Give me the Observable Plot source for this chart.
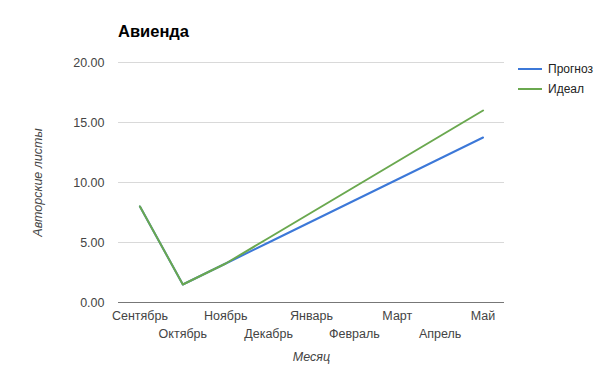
<!DOCTYPE html>
<html><head><meta charset="utf-8">
<script src="https://cdn.jsdelivr.net/npm/d3@7"></script>
<script src="https://cdn.jsdelivr.net/npm/@observablehq/plot@0.6"></script>
<style>
body{margin:0;background:#fff;font-family:"Liberation Sans",Arial,sans-serif;}
#wrap{position:relative;width:605px;height:371px;}
#title{position:absolute;left:118px;top:22px;font-weight:bold;font-size:16.5px;color:#000;}
#legend{position:absolute;left:518px;top:59px;font-size:12px;color:#222;}
.li{display:flex;align-items:center;height:20px;}
.sw{width:24px;height:2px;margin-right:6px;}
</style></head>
<body><div id="wrap"><div id="title"></div><div id="legend"></div></div>
<script>
const title = "Авиенда";
const months = ["Сентябрь","Октябрь","Ноябрь","Декабрь","Январь","Февраль","Март","Апрель","Май"];
const forecast = [8.0, 1.5, 3.25, 5.0, 6.75, 8.5, 10.25, 12.0, 13.75];
const ideal = [8.0, 1.5, 3.25, 5.375, 7.5, 9.625, 11.75, 13.875, 16.0];
const seriesNames = ["Прогноз","Идеал"];
const colors = ["#3c78d8","#6aa84f"];
const yTicks = [0,5,10,15,20];
const xLabel = "Месяц";
const yLabel = "Авторские листы";

const rows = [];
months.forEach((m,i)=>{
  rows.push({month:m, value:forecast[i], series:seriesNames[0]});
});
months.forEach((m,i)=>{
  rows.push({month:m, value:ideal[i], series:seriesNames[1]});
});

const chart = Plot.plot({
  width:605, height:371,
  marginLeft:118, marginRight:101, marginTop:62, marginBottom:69,
  style:{fontFamily:"'Liberation Sans',Arial,sans-serif", fontSize:"12.5px", color:"#444", background:"transparent"},
  x:{type:"point", domain:months, padding:0.5, round:false, axis:null},
  y:{domain:[0,20], axis:null},
  color:{domain:seriesNames, range:colors},
  marks:[
    Plot.gridY(yTicks.filter(d=>d>0), {stroke:"#d9d9d9", strokeOpacity:1, strokeWidth:1}),
    Plot.ruleY([0], {stroke:"#777", strokeWidth:1}),
    Plot.axisY(yTicks, {tickSize:0, tickPadding:14, tickFormat:d3.format(".2f"), fill:"#444", label:null}),
    Plot.axisX(months.filter((d,i)=>i%2===0), {tickSize:0, tickPadding:9, fill:"#444", label:null}),
    Plot.axisX(months.filter((d,i)=>i%2===1), {tickSize:0, tickPadding:27, fill:"#444", label:null}),
    Plot.line(rows, {x:"month", y:"value", z:"series", stroke:"series", strokeWidth:2}),
    Plot.text([xLabel], {frameAnchor:"bottom", dy:58, fontStyle:"italic", fill:"#444", fontSize:12.5}),
    Plot.text([yLabel], {frameAnchor:"left", textAnchor:"middle", dx:-81, rotate:-90, fontStyle:"italic", fill:"#444", fontSize:12.5})
  ]
});
document.getElementById("wrap").appendChild(chart);
chart.style.position="absolute"; chart.style.left="0"; chart.style.top="0";
document.getElementById("title").textContent = title;
const lg = document.getElementById("legend");
seriesNames.forEach((s,i)=>{
  const d=document.createElement("div"); d.className="li";
  d.innerHTML=`<span class="sw" style="background:${colors[i]}"></span><span>${s}</span>`;
  lg.appendChild(d);
});
</script></body></html>
